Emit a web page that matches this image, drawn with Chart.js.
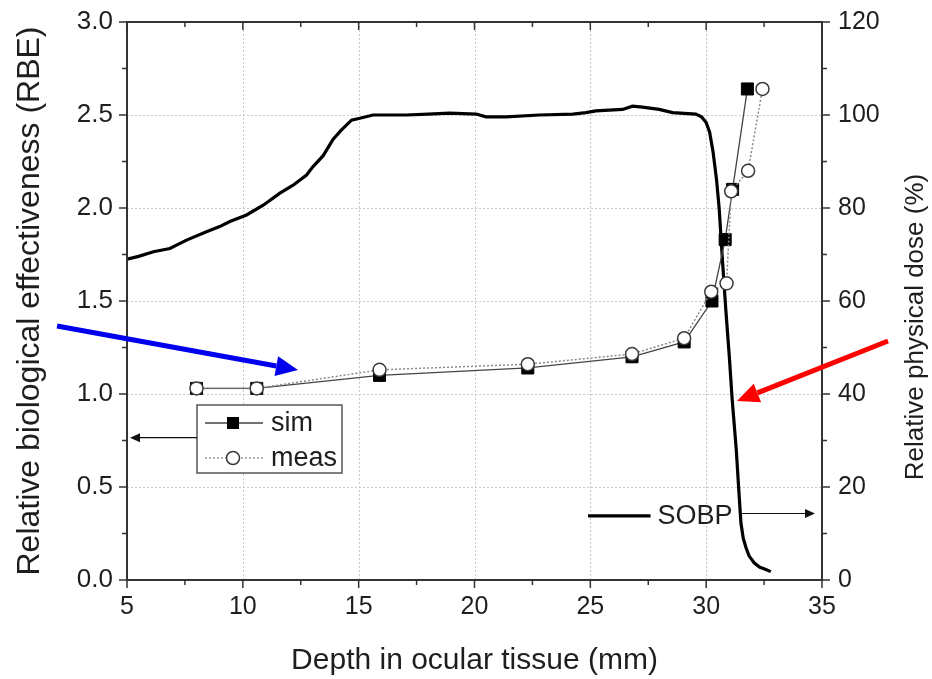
<!DOCTYPE html>
<html>
<head>
<meta charset="utf-8">
<script src="https://cdn.jsdelivr.net/npm/chart.js@4.4.1/dist/chart.umd.min.js"></script>
<style>
  html, body { margin: 0; padding: 0; background: #fff; }
</style>
</head>
<body>
<canvas id="c" width="932" height="679"></canvas>
<script>
// Depth-dose profile of the spread-out Bragg peak (right axis, %)
const depthMM = [5.0, 5.5, 6.14, 6.85, 7.57, 8.43, 9.0, 9.44, 10.16, 10.88, 11.6, 12.17, 12.75, 13.03,
  13.46, 13.9, 14.26, 14.69, 15.05, 15.62, 16.3, 17.05, 18.0, 18.92, 20.07, 20.5, 21.36, 22.8,
  24.24, 24.81, 25.24, 26.39, 26.82, 27.25, 27.97, 28.55, 29.55, 29.8, 30.0, 30.15, 30.3, 30.45,
  30.56, 30.7, 30.85, 31.0, 31.12, 31.3, 31.4, 31.5, 31.6, 31.71, 31.85, 32.07, 32.3, 32.55, 32.79];
const dosePct = [69.0, 69.6, 70.6, 71.3, 73.1, 74.9, 76.0, 77.1, 78.5, 80.6, 83.2, 84.9, 87.1, 88.9,
  91.2, 94.8, 96.8, 98.9, 99.3, 100.0, 100.0, 100.0, 100.2, 100.4, 100.2, 99.6, 99.6, 100.0,
  100.2, 100.5, 100.9, 101.2, 101.9, 101.7, 101.2, 100.5, 100.2, 99.6, 98.4, 96.3, 92.0, 86.0,
  80.0, 69.0, 58.0, 48.0, 39.0, 28.0, 20.0, 12.3, 9.0, 7.1, 5.2, 3.7, 2.8, 2.3, 1.8];

// RBE, simulated and measured (left axis)
const simDepth = [8.0, 10.6, 15.9, 22.3, 26.8, 29.05, 30.25, 30.82, 31.14, 31.78];
const simRBE   = [1.03, 1.03, 1.10, 1.14, 1.20, 1.28, 1.50, 1.83, 2.10, 2.64];
const measDepth = [8.0, 10.6, 15.9, 22.3, 26.8, 29.05, 30.22, 30.88, 31.08, 31.81, 32.43];
const measRBE   = [1.03, 1.03, 1.13, 1.16, 1.215, 1.30, 1.55, 1.595, 2.09, 2.20, 2.64];

// Axis ranges and tick values
const depthRange = [5, 35];
const rbeRange = [0, 3];
const doseRange = [0, 120];
const depthMajor = [5, 10, 15, 20, 25, 30, 35];
const depthMinor = [7.5, 12.5, 17.5, 22.5, 27.5, 32.5];
const rbeMajor = [0, 0.5, 1.0, 1.5, 2.0, 2.5, 3.0];
const rbeMinor = [0.25, 0.75, 1.25, 1.75, 2.25, 2.75];
const doseMajor = [0, 20, 40, 60, 80, 100, 120];
const doseMinor = [10, 30, 50, 70, 90, 110];

const FONT = '"Liberation Sans", Arial, Helvetica, sans-serif';
const INK = '#1e1e1e';

const pts = (xs, ys) => xs.map((x, i) => ({ x, y: ys[i] }));

function arrow(ctx, x1, y1, x2, y2, w, headLen, headHalf, color) {
  const ang = Math.atan2(y2 - y1, x2 - x1);
  const bx = x2 - Math.cos(ang) * headLen, by = y2 - Math.sin(ang) * headLen;
  ctx.save();
  ctx.strokeStyle = color; ctx.fillStyle = color; ctx.lineWidth = w; ctx.lineCap = 'butt';
  ctx.beginPath(); ctx.moveTo(x1, y1); ctx.lineTo(bx, by); ctx.stroke();
  ctx.beginPath();
  ctx.moveTo(x2, y2);
  ctx.lineTo(bx + Math.sin(ang) * headHalf, by - Math.cos(ang) * headHalf);
  ctx.lineTo(bx - Math.sin(ang) * headHalf, by + Math.cos(ang) * headHalf);
  ctx.closePath(); ctx.fill();
  ctx.restore();
}

const framePlugin = {
  id: 'frame',
  beforeDatasetsDraw(chart) {
    const { ctx, chartArea: a, scales: { x, y } } = chart;
    ctx.save();
    ctx.strokeStyle = '#c9c9c9'; ctx.lineWidth = 1; ctx.setLineDash([2, 2]);
    depthMajor.slice(1, -1).forEach(v => {
      const px = Math.round(x.getPixelForValue(v)) + 0.5;
      ctx.beginPath(); ctx.moveTo(px, a.top); ctx.lineTo(px, a.bottom); ctx.stroke();
    });
    rbeMajor.slice(1, -1).forEach(v => {
      const py = Math.round(y.getPixelForValue(v)) + 0.5;
      ctx.beginPath(); ctx.moveTo(a.left, py); ctx.lineTo(a.right, py); ctx.stroke();
    });
    ctx.restore();
  },
  afterDraw(chart) {
    const { ctx, chartArea: a, scales: { x, y, y2 } } = chart;
    ctx.save();
    // plot frame
    ctx.strokeStyle = '#333'; ctx.lineWidth = 2;
    ctx.strokeRect(a.left, a.top, a.right - a.left, a.bottom - a.top);
    // tick marks
    ctx.lineWidth = 1.5;
    const tick = (x1, y1, x2, y2) => { ctx.beginPath(); ctx.moveTo(x1, y1); ctx.lineTo(x2, y2); ctx.stroke(); };
    depthMajor.forEach(v => { const p = x.getPixelForValue(v); tick(p, a.bottom, p, a.bottom + 8); tick(p, a.top, p, a.top + 8); });
    depthMinor.forEach(v => { const p = x.getPixelForValue(v); tick(p, a.bottom, p, a.bottom + 5); tick(p, a.top, p, a.top + 5); });
    rbeMajor.forEach(v => { const p = y.getPixelForValue(v); tick(a.left - 8, p, a.left, p); });
    rbeMinor.forEach(v => { const p = y.getPixelForValue(v); tick(a.left - 5, p, a.left, p); });
    doseMajor.forEach(v => { const p = y2.getPixelForValue(v); tick(a.right, p, a.right + 8, p); });
    doseMinor.forEach(v => { const p = y2.getPixelForValue(v); tick(a.right, p, a.right + 5, p); });

    // right axis title, reading upward
    ctx.fillStyle = INK;
    ctx.font = '26px ' + FONT;
    ctx.textAlign = 'center'; ctx.textBaseline = 'middle';
    ctx.translate(916, 327); ctx.rotate(-Math.PI / 2);
    ctx.fillText('Relative physical dose (%)', 0, 0);
    ctx.setTransform(1, 0, 0, 1, 0, 0);

    // legend box
    const lx = 197, ly = 405, lw = 145, lh = 68;
    ctx.fillStyle = '#fff'; ctx.fillRect(lx, ly, lw, lh);
    ctx.strokeStyle = '#555'; ctx.lineWidth = 1.5; ctx.strokeRect(lx, ly, lw, lh);
    const r1 = ly + 18, r2 = ly + 53;
    ctx.strokeStyle = '#444'; ctx.lineWidth = 1.3;
    ctx.beginPath(); ctx.moveTo(lx + 8, r1); ctx.lineTo(lx + 66, r1); ctx.stroke();
    ctx.fillStyle = '#000'; ctx.fillRect(lx + 30, r1 - 6, 12, 12);
    ctx.strokeStyle = '#999'; ctx.lineWidth = 1.5; ctx.setLineDash([2, 2]);
    ctx.beginPath(); ctx.moveTo(lx + 8, r2); ctx.lineTo(lx + 66, r2); ctx.stroke();
    ctx.setLineDash([]);
    ctx.beginPath(); ctx.arc(lx + 36, r2, 6.5, 0, Math.PI * 2);
    ctx.fillStyle = '#fff'; ctx.fill(); ctx.strokeStyle = '#3a3a3a'; ctx.lineWidth = 1.5; ctx.stroke();
    ctx.fillStyle = INK; ctx.font = '27px ' + FONT; ctx.textAlign = 'left'; ctx.textBaseline = 'middle';
    ctx.fillText('sim', lx + 74, r1 + 1);
    ctx.fillText('meas', lx + 74, r2 + 1);
    // legend pointer to the RBE axis
    arrow(ctx, lx, y.getPixelForValue(0.765), a.left + 3, y.getPixelForValue(0.765), 1.2, 10, 4.5, '#111');

    // SOBP label with pointer to the dose axis
    const sy = y2.getPixelForValue(13.8);
    ctx.strokeStyle = '#000'; ctx.lineWidth = 3.2;
    ctx.beginPath(); ctx.moveTo(x.getPixelForValue(24.9), sy); ctx.lineTo(x.getPixelForValue(27.6), sy); ctx.stroke();
    ctx.fillStyle = INK; ctx.font = '27px ' + FONT; ctx.textAlign = 'left';
    ctx.fillText('SOBP', x.getPixelForValue(27.9), sy + 1);
    const ay = y2.getPixelForValue(14.3);
    arrow(ctx, x.getPixelForValue(31.55), ay, a.right - 7, ay, 1.2, 10, 4.5, '#111');

    // highlight arrows
    arrow(ctx, x.getPixelForValue(1.98), y.getPixelForValue(1.366), x.getPixelForValue(12.38), y.getPixelForValue(1.129), 5, 22, 10, '#0000ee');
    arrow(ctx, x.getPixelForValue(37.85), y.getPixelForValue(1.285), x.getPixelForValue(31.33), y.getPixelForValue(0.962), 5, 22, 10, '#ff0000');
    ctx.restore();
  }
};

new Chart(document.getElementById('c'), {
  type: 'line',
  data: {
    datasets: [
      {
        label: 'meas', data: pts(measDepth, measRBE), yAxisID: 'y', order: 1,
        borderColor: '#8a8a8a', borderWidth: 1.5, borderDash: [2, 2],
        pointStyle: 'circle', pointRadius: 6.5, pointBackgroundColor: '#fff',
        pointBorderColor: '#3a3a3a', pointBorderWidth: 1.5
      },
      {
        label: 'sim', data: pts(simDepth, simRBE), yAxisID: 'y', order: 2,
        borderColor: '#444', borderWidth: 1.3,
        pointStyle: 'rect', pointRadius: 8.5, pointBackgroundColor: '#000',
        pointBorderColor: '#000', pointBorderWidth: 1
      },
      {
        label: 'SOBP', data: pts(depthMM, dosePct), yAxisID: 'y2', order: 3,
        borderColor: '#000', borderWidth: 3.2, pointRadius: 0, tension: 0
      }
    ]
  },
  options: {
    responsive: false,
    animation: false,
    layout: { padding: { top: 22 } },
    plugins: { legend: { display: false }, tooltip: { enabled: false } },
    scales: {
      x: {
        type: 'linear', min: depthRange[0], max: depthRange[1],
        ticks: { stepSize: 5, padding: 12, color: INK, font: { family: FONT, size: 25 } },
        grid: { display: true, drawOnChartArea: false, drawTicks: false },
        border: { display: false },
        title: { display: true, text: 'Depth in ocular tissue (mm)', color: INK,
                 font: { family: FONT, size: 30 }, padding: { top: 0, bottom: 0 } },
        afterFit(s) { s.height = 99; s.paddingLeft = 0; s.paddingRight = 0; }
      },
      y: {
        position: 'left', min: rbeRange[0], max: rbeRange[1],
        ticks: { stepSize: 0.5, padding: 14, color: INK, font: { family: FONT, size: 26 },
                 callback: v => Number(v).toFixed(1) },
        grid: { display: true, drawOnChartArea: false, drawTicks: false },
        border: { display: false },
        title: { display: true, text: 'Relative biological effectiveness (RBE)', color: INK,
                 font: { family: FONT, size: 32 }, padding: { top: 11, bottom: 0 } },
        afterFit(s) { s.width = 127; s.paddingTop = 0; s.paddingBottom = 0; }
      },
      y2: {
        position: 'right', min: doseRange[0], max: doseRange[1],
        ticks: { stepSize: 20, padding: 16, color: INK, font: { family: FONT, size: 25 } },
        grid: { display: true, drawOnChartArea: false, drawTicks: false },
        border: { display: false },
        afterFit(s) { s.width = 110; s.paddingTop = 0; s.paddingBottom = 0; }
      }
    }
  },
  plugins: [framePlugin]
});
</script>
</body>
</html>
